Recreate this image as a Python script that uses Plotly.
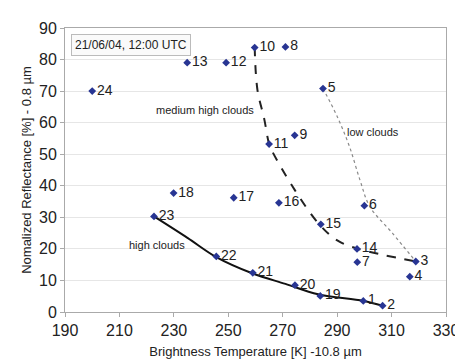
import plotly.graph_objects as go

# Data points: brightness temperature (K) and normalized reflectance (%)
labels = ["1", "2", "3", "4", "5", "6", "7", "8", "9", "10", "11", "12",
          "13", "14", "15", "16", "17", "18", "19", "20", "21", "22", "23", "24"]
temp = [299.6, 306.7, 318.9, 316.7, 284.8, 300.0, 297.4, 271.0, 274.4, 259.7, 265.0, 249.2,
        234.9, 297.3, 284.0, 268.6, 252.0, 229.9, 283.8, 274.5, 259.0, 245.6, 222.7, 200.0]
refl = [3.5, 2.0, 16.0, 11.2, 70.8, 33.7, 15.8, 84.0, 56.0, 83.8, 53.2, 79.0,
        79.0, 20.0, 27.8, 34.6, 36.2, 37.7, 5.1, 8.5, 12.4, 17.6, 30.3, 70.0]

# Trend curves
high_x = [222.7, 235.0, 245.6, 259.0, 271.0, 283.0, 299.6, 306.7]
high_y = [30.3, 23.5, 17.4, 12.2, 8.9, 5.6, 3.5, 2.0]
med_x = [259.7, 260.7, 263.2, 265.0, 266.1, 274.4, 283.4, 290.2, 297.4, 318.9]
med_y = [84.0, 70.5, 61.2, 53.2, 51.0, 38.7, 27.8, 22.6, 20.1, 16.0]
low_x = [284.8, 290.0, 294.5, 298.4, 302.0, 310.3, 318.9]
low_y = [70.8, 62.0, 52.5, 41.8, 33.4, 25.0, 16.0]

x_ticks = [190, 210, 230, 250, 270, 290, 310, 330]
y_ticks = [0, 10, 20, 30, 40, 50, 60, 70, 80, 90]

FONT = "Liberation Sans, Arial, sans-serif"

fig = go.Figure()
fig.add_trace(go.Scatter(x=high_x, y=high_y, mode="lines", line=dict(color="#111111", width=2, shape="spline"),
                         hoverinfo="skip", showlegend=False))
fig.add_trace(go.Scatter(x=med_x, y=med_y, mode="lines", line=dict(color="#222222", width=2, dash="dash", shape="spline"),
                         hoverinfo="skip", showlegend=False))
fig.add_trace(go.Scatter(x=low_x, y=low_y, mode="lines", line=dict(color="#8a8a8a", width=1.2, dash="dot", shape="spline"),
                         hoverinfo="skip", showlegend=False))
fig.add_trace(go.Scatter(
    x=temp, y=refl, mode="markers+text", text=labels, textposition="middle right",
    textfont=dict(family=FONT, size=14, color="#222222"),
    marker=dict(symbol="diamond", size=6, color="#283593"),
    showlegend=False, cliponaxis=False))

fig.add_annotation(x=241.3, y=64, text="medium high clouds", showarrow=False,
                   font=dict(family=FONT, size=11, color="#222222"))
fig.add_annotation(x=303, y=57.2, text="low clouds", showarrow=False,
                   font=dict(family=FONT, size=11, color="#222222"))
fig.add_annotation(x=223.8, y=21.3, text="high clouds", showarrow=False,
                   font=dict(family=FONT, size=11, color="#222222"))
fig.add_annotation(x=214.4, y=84.7, text="21/06/04, 12:00 UTC", showarrow=False,
                   font=dict(family=FONT, size=12, color="#222222"),
                   bordercolor="#bbbbbb", borderwidth=1, borderpad=3, bgcolor="#fafafa")

fig.update_xaxes(range=[190, 330], tickvals=x_ticks, showgrid=False, zeroline=False,
                 showline=True, linecolor="#aaaaaa", mirror=True, ticks="outside", ticklen=4,
                 tickcolor="#aaaaaa",
                 tickfont=dict(family=FONT, size=16, color="#222222"),
                 title=dict(text="Brightness Temperature [K] -10.8 µm", standoff=8,
                            font=dict(family=FONT, size=13, color="#222222")))
fig.update_yaxes(range=[0, 90], tickvals=y_ticks, showgrid=True, gridcolor="#e6e6e6", zeroline=False,
                 showline=True, linecolor="#aaaaaa", mirror=True, ticks="outside", ticklen=4,
                 tickcolor="#aaaaaa",
                 tickfont=dict(family=FONT, size=16, color="#222222"),
                 title=dict(text="Nomalized Reflectance [%] - 0.8 µm", standoff=4,
                            font=dict(family=FONT, size=13, color="#222222")))

fig.update_layout(width=463, height=360, margin=dict(l=57, r=15, t=17, b=52),
                  plot_bgcolor="white", paper_bgcolor="white")
fig.write_html("out.html")
